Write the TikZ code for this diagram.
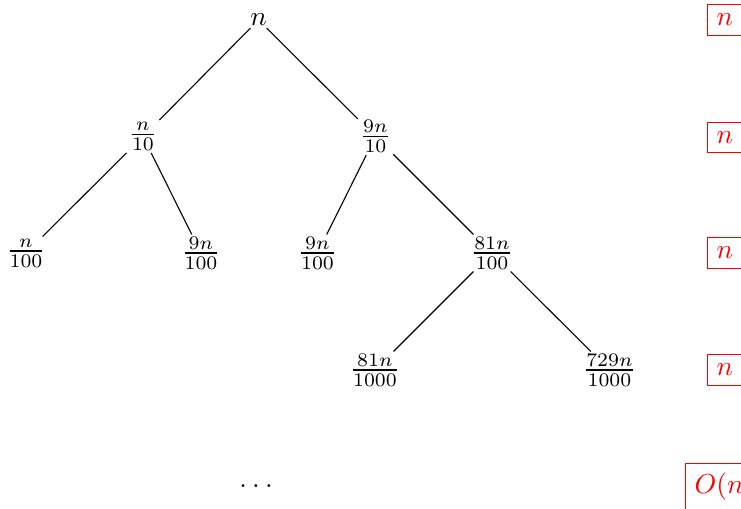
\documentclass[tikz,border=0pt]{standalone}
\begin{document}
\begin{tikzpicture}[x=0.3637pt,y=-0.3637pt,
  tn/.style={inner sep=0.6pt},
  cost/.style={draw=red, text=red, inner sep=3.333pt, anchor=west}]
\useasboundingbox (0,0) rectangle (741,508);
% tree nodes
\node[tn] (r)   at (258.5,20)  {$n$};
\node[tn] (a)   at (143,136.5) {$\frac{n}{10}$};
\node[tn] (b)   at (375.5,136.5) {$\frac{9n}{10}$};
\node[tn] (aa)  at (26,253)    {$\frac{n}{100}$};
\node[tn] (ab)  at (201,253)   {$\frac{9n}{100}$};
\node[tn] (ba)  at (317.5,253) {$\frac{9n}{100}$};
\node[tn] (bb)  at (492,253)   {$\frac{81n}{100}$};
\node[tn] (bba) at (375,370)   {$\frac{81n}{1000}$};
\node[tn] (bbb) at (609.5,370) {$\frac{729n}{1000}$};
\node[tn] (dots) at (256,486.5) {.\hspace{1.9pt}.\hspace{1.9pt}.};
% edges
\draw (r) -- (a);
\draw (r) -- (b);
\draw (a) -- (aa);
\draw (a) -- (ab);
\draw (b) -- (ba);
\draw (b) -- (bb);
\draw (bb) -- (bba);
\draw (bb) -- (bbb);
% level costs
\node[cost] (c0) at (707,20)    {$n$};
\node[cost] (c1) at (707,137.5) {$n$};
\node[cost] (c2) at (707,253)   {$n$};
\node[cost] (c3) at (707,370)   {$n$};
\node[cost] (c4) at (685,486.5) {$O(n$};
\end{tikzpicture}
\end{document}
